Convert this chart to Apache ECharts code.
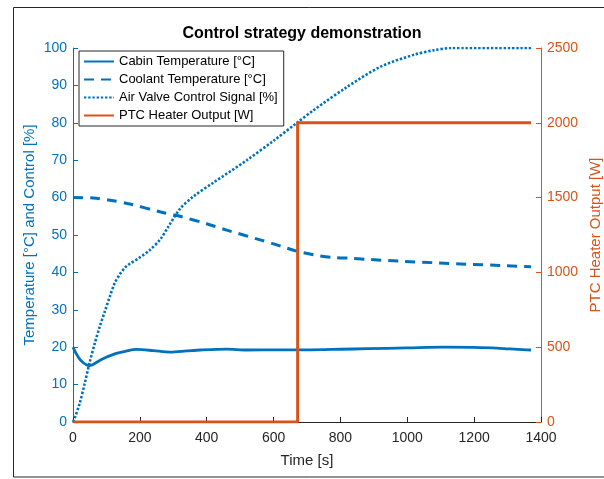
<!DOCTYPE html>
<html>
<head>
<meta charset="utf-8">
<script src="https://cdn.jsdelivr.net/npm/echarts@6/dist/echarts.min.js"></script>
<style>
  html, body { margin: 0; padding: 0; background: #fff; overflow: hidden; }
  #chart { width: 604px; height: 479px; }
</style>
</head>
<body>
<div id="chart"></div>
<script>
// Cabin temperature [°C] over time [s]
const cabinTime = [0, 10, 20, 30, 40, 48, 60, 85, 125, 165, 190, 240, 290, 340, 380, 460, 520, 610, 710, 800, 880, 1000, 1108, 1200, 1277, 1330, 1370];
const cabinTemp = [20, 18.2, 16.8, 15.9, 15.3, 15.1, 15.4, 16.7, 18.2, 19.1, 19.4, 19.1, 18.7, 19.0, 19.25, 19.5, 19.25, 19.3, 19.3, 19.45, 19.6, 19.8, 20.0, 19.95, 19.7, 19.4, 19.25];

// Coolant temperature [°C]
const coolantTime = [0, 60, 111, 170, 260, 320, 400, 460, 560, 619, 669, 719, 774, 826, 878, 978, 1078, 1178, 1297, 1370];
const coolantTemp = [60, 59.9, 59.3, 58.3, 56.2, 55.0, 53.0, 51.3, 48.7, 47.1, 45.7, 44.7, 44.0, 43.8, 43.5, 43.0, 42.6, 42.2, 41.8, 41.5];

// Air valve control signal [%]
const valveTime = [0, 5, 20, 35, 50, 65, 80, 95, 110, 125, 141, 155, 170, 200, 230, 260, 285, 320, 360, 420, 520, 600, 670, 720, 820, 920, 1020, 1080, 1130, 1370];
const valveSignal = [0, 1, 5, 10.3, 16, 21, 25.5, 29.5, 33.5, 37.2, 39.6, 41.2, 42.3, 44, 46, 48.7, 52.2, 57, 60.3, 64, 70, 75.2, 80, 83.4, 89.6, 95, 98.2, 99.4, 100, 100];

// PTC heater output [W] (step when the heater switches on)
const ptcTime = [0, 672, 672, 1370];
const ptcPower = [0, 0, 2000, 2000];

const seriesNames = [
  'Cabin Temperature [°C]',
  'Coolant Temperature [°C]',
  'Air Valve Control Signal [%]',
  'PTC Heater Output [W]'
];

const BLUE = '#0072BD';
const ORANGE = '#D95319';
const DARK = '#262626';
const FONT = '"Liberation Sans", Arial, Helvetica, sans-serif';

const pairs = (xs, ys) => xs.map((x, i) => [x, ys[i]]);
const plain = v => String(v);

const chart = echarts.init(document.getElementById('chart'), null, { renderer: 'canvas' });

chart.setOption({
  backgroundColor: '#fff',
  animation: false,
  textStyle: { fontFamily: FONT },
  title: {
    text: 'Control strategy demonstration',
    left: 'center',
    top: 26,
    padding: 0,
    textStyle: { fontFamily: FONT, fontSize: 16, fontWeight: 'bold', color: '#000' }
  },
  graphic: [{
    type: 'rect',
    shape: { x: 13.5, y: 7.5, width: 700, height: 469.5 },
    style: { fill: 'none', stroke: DARK, lineWidth: 1 },
    silent: true,
    z: -1
  }],
  legend: {
    data: seriesNames,
    orient: 'vertical',
    left: 79,
    top: 51,
    padding: [4, 6, 4, 4],
    itemWidth: 30,
    itemHeight: 15,
    itemGap: 5,
    borderColor: DARK,
    borderWidth: 1,
    borderRadius: 0,
    backgroundColor: '#fff',
    itemStyle: { opacity: 0 },
    textStyle: { fontFamily: FONT, fontSize: 13, color: '#000' }
  },
  grid: { left: 73, right: 63, top: 48, bottom: 57, containLabel: false, outerBoundsMode: 'none' },
  xAxis: {
    type: 'value',
    min: 0,
    max: 1400,
    interval: 200,
    name: 'Time [s]',
    nameLocation: 'middle',
    nameGap: 31,
    nameMoveOverlap: false,
    nameTextStyle: { fontFamily: FONT, fontSize: 15, color: DARK },
    axisLine: { show: true, lineStyle: { color: DARK, width: 1 } },
    axisTick: { show: true, inside: true, length: 5, lineStyle: { color: DARK } },
    axisLabel: { fontFamily: FONT, fontSize: 14, color: DARK, margin: 9, formatter: plain },
    splitLine: { show: false }
  },
  yAxis: [{
    type: 'value',
    position: 'left',
    min: 0,
    max: 100,
    interval: 10,
    name: 'Temperature [°C] and Control [%]',
    nameLocation: 'middle',
    nameRotate: 90,
    nameGap: 36,
    nameMoveOverlap: false,
    nameTextStyle: { fontFamily: FONT, fontSize: 15, color: BLUE },
    axisLine: { show: true, lineStyle: { color: BLUE, width: 1 } },
    axisTick: { show: true, inside: true, length: 5, lineStyle: { color: BLUE } },
    axisLabel: { fontFamily: FONT, fontSize: 14, color: BLUE, margin: 6, formatter: plain },
    splitLine: { show: false }
  }, {
    type: 'value',
    position: 'right',
    min: 0,
    max: 2500,
    interval: 500,
    name: 'PTC Heater Output [W]',
    nameLocation: 'middle',
    nameRotate: 90,
    nameGap: 47,
    nameMoveOverlap: false,
    nameTextStyle: { fontFamily: FONT, fontSize: 15, color: ORANGE },
    axisLine: { show: true, lineStyle: { color: ORANGE, width: 1 } },
    axisTick: { show: true, inside: true, length: 5, lineStyle: { color: ORANGE } },
    axisLabel: { fontFamily: FONT, fontSize: 14, color: ORANGE, margin: 6, formatter: plain },
    splitLine: { show: false }
  }],
  series: [{
    name: seriesNames[0],
    type: 'line',
    yAxisIndex: 0,
    data: pairs(cabinTime, cabinTemp),
    smooth: 0.3,
    showSymbol: false,
    symbol: 'none',
    lineStyle: { color: BLUE, width: 2.8, type: 'solid' },
    itemStyle: { color: BLUE },
    z: 3
  }, {
    name: seriesNames[1],
    type: 'line',
    yAxisIndex: 0,
    data: pairs(coolantTime, coolantTemp),
    smooth: 0.3,
    showSymbol: false,
    symbol: 'none',
    lineStyle: { color: BLUE, width: 3, type: [10, 7] },
    itemStyle: { color: BLUE },
    z: 3
  }, {
    name: seriesNames[2],
    type: 'line',
    yAxisIndex: 0,
    data: pairs(valveTime, valveSignal),
    smooth: 0.3,
    showSymbol: false,
    symbol: 'none',
    lineStyle: { color: BLUE, width: 2.6, type: [2.4, 1.8] },
    itemStyle: { color: BLUE },
    z: 3
  }, {
    name: seriesNames[3],
    type: 'line',
    yAxisIndex: 1,
    data: pairs(ptcTime, ptcPower),
    showSymbol: false,
    symbol: 'none',
    lineStyle: { color: ORANGE, width: 3, type: 'solid' },
    itemStyle: { color: ORANGE },
    z: 4
  }]
});
</script>
</body>
</html>
